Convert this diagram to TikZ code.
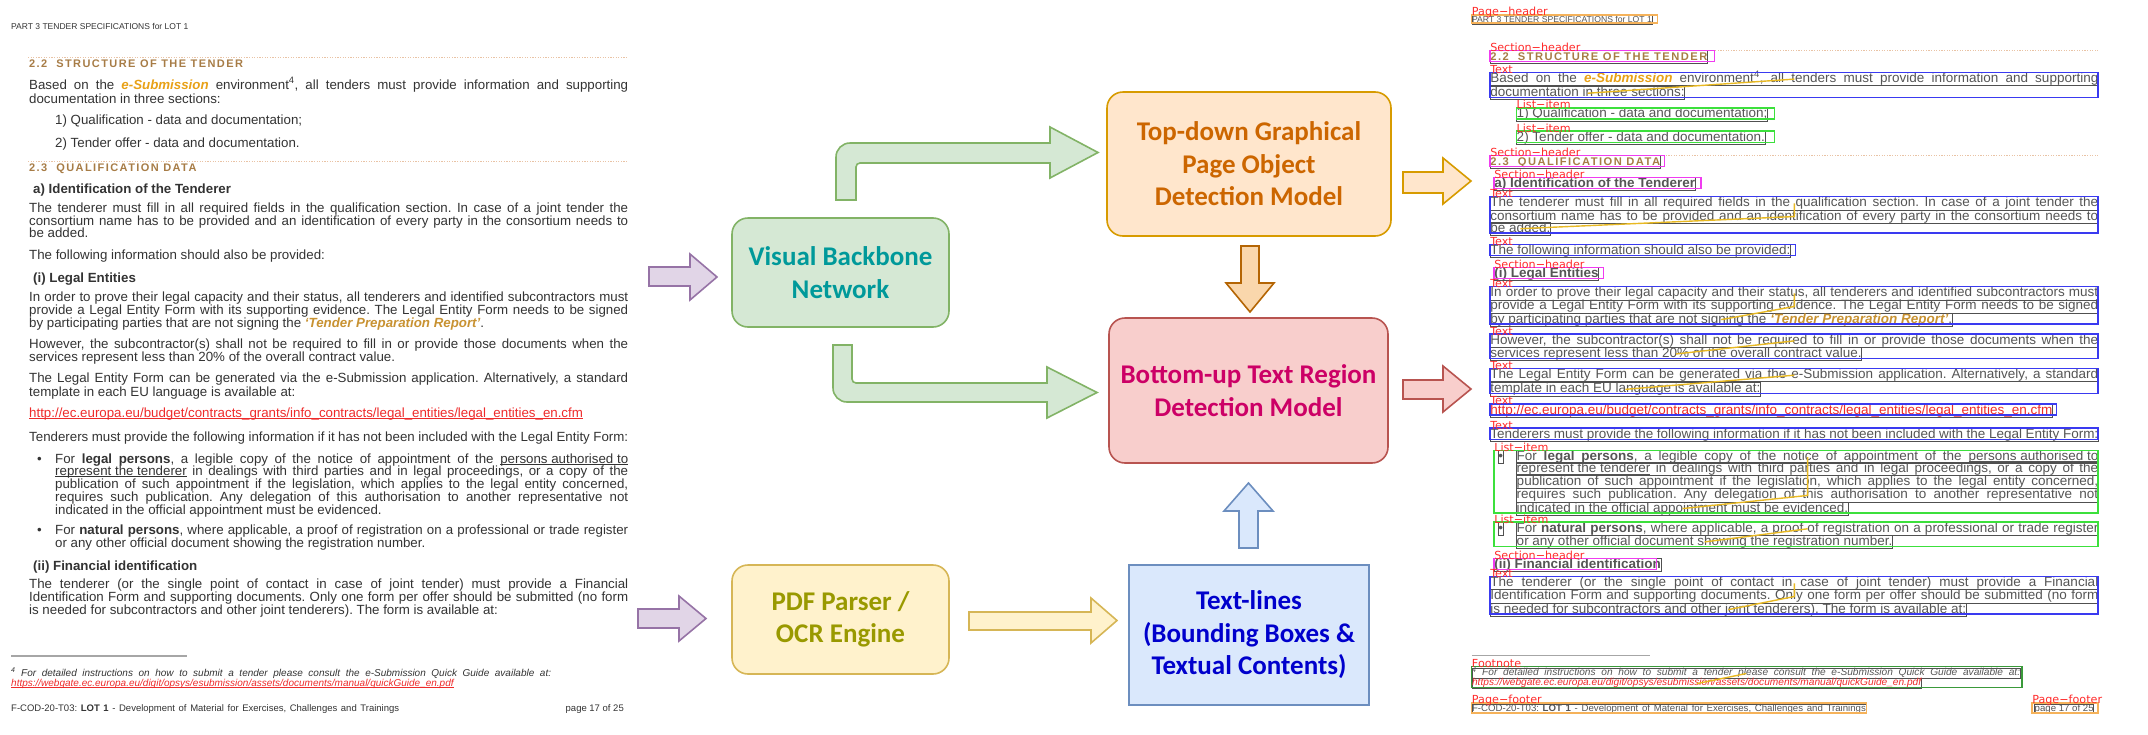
\documentclass[tikz,border=0pt]{standalone}
\usepackage{fontspec}
\setmainfont{Liberation Sans}
\newfontfamily\calfont{Carlito}
\newfontfamily\labfont{DejaVu Sans}
\definecolor{doctext}{HTML}{333333}
\definecolor{docgray}{HTML}{555555}
\definecolor{secbrown}{HTML}{A77C46}
\definecolor{esubc}{HTML}{E8A117}
\definecolor{tprc}{HTML}{C89232}
\definecolor{urlred}{HTML}{EE2A2A}
\definecolor{dotc}{HTML}{E9C3A5}
\definecolor{lbgray}{HTML}{505050}
\definecolor{labred}{HTML}{FF2A2A}
\definecolor{anntext}{HTML}{3A3AF0}
\definecolor{annsec}{HTML}{F03CF0}
\definecolor{annlist}{HTML}{3CE03C}
\definecolor{annfn}{HTML}{3A9A3A}
\definecolor{annpg}{HTML}{F5B25A}
\definecolor{yline}{HTML}{E8B923}
\definecolor{vbfill}{HTML}{D5E8D4}\definecolor{vbdraw}{HTML}{82B366}\definecolor{vbtext}{HTML}{00999A}
\definecolor{tdfill}{HTML}{FFE6CC}\definecolor{tddraw}{HTML}{D79B00}\definecolor{tdtext}{HTML}{CC6600}
\definecolor{bufill}{HTML}{F8CECC}\definecolor{budraw}{HTML}{B85450}\definecolor{butext}{HTML}{CC0066}
\definecolor{pdffill}{HTML}{FFF2CC}\definecolor{pdfdraw}{HTML}{D6B656}\definecolor{pdftext}{HTML}{999900}
\definecolor{tlfill}{HTML}{DAE8FC}\definecolor{tldraw}{HTML}{6C8EBF}\definecolor{tltext}{HTML}{0000CC}
\definecolor{pufill}{HTML}{E1D5E7}\definecolor{pudraw}{HTML}{9673A6}
\definecolor{odfill}{HTML}{FAD7AC}\definecolor{oddraw}{HTML}{B46504}

\frenchspacing
\newcommand\bodyfont{\fontsize{13.3pt}{13.3pt}\selectfont\frenchspacing}
\newcommand\hdfont{\fontsize{8.5pt}{8.5pt}\selectfont}
\newcommand\ftfont{\fontsize{9.5pt}{9.5pt}\selectfont}
\newcommand\fnfont{\fontsize{10pt}{10pt}\selectfont\itshape}
\newcommand\secfont{\color{secbrown}\bfseries\fontsize{11pt}{11pt}\selectfont\addfontfeature{LetterSpace=13}}
\newcommand\esubm[1]{{\color{esubc}\bfseries\itshape #1}}
\newcommand\tprm[1]{{\color{tprc}\bfseries\itshape #1}}
\newcommand\uln[1]{\setbox0\hbox{#1}\rlap{\rule[-1.6pt]{\wd0}{0.6pt}}\box0\relax}
\def\dpfx{L}
\newcommand\docJ[3]{\node[dl] (\dpfx-#1) at (29,#2) {\makebox[599pt][s]{#3}};}
\newcommand\docB[3]{\node[dl] (\dpfx-#1) at (55,#2) {\makebox[573pt][s]{#3}};}
\newcommand\docL[4]{\node[dl] (\dpfx-#1) at (#2,#3) {#4};}
\newcommand\docS[4]{\node[dls] (\dpfx-#1) at (#2,#3) {#4};}

\newcommand\docpage{%
\docS{h}{11}{29}{\hdfont PART 3 TENDER SPECIFICATIONS for LOT 1}
\draw[dotc, line width=0.9pt, dash pattern=on 1.2pt off 1.4pt] (28,57) -- (628,57);
\docL{s1}{29}{67}{\secfont 2.2\ \ STRUCTURE OF THE TENDER}
\docJ{1}{89}{Based on the \esubm{e-Submission} environment\textsuperscript{4}, all tenders must provide information and supporting}
\docL{2}{29}{103}{documentation in three sections:}
\docL{3}{55}{124}{1) Qualification - data and documentation;}
\docL{4}{55}{147}{2) Tender offer - data and documentation.}
\draw[dotc, line width=0.9pt, dash pattern=on 1.2pt off 1.4pt] (28,161) -- (628,161);
\docL{s2}{29}{171}{\secfont 2.3\ \ QUALIFICATION DATA}
\docL{5}{33}{193}{\textbf{a) Identification of the Tenderer}}
\docJ{6}{212}{The tenderer must fill in all required fields in the qualification section. In case of a joint tender the}
\docJ{7}{225}{consortium name has to be provided and an identification of every party in the consortium needs to}
\docL{8}{29}{237}{be added.}
\docL{9}{29}{259}{The following information should also be provided:}
\docL{10}{33}{282}{\textbf{(i) Legal Entities}}
\docJ{11}{301}{In order to prove their legal capacity and their status, all tenderers and identified subcontractors must}
\docJ{12}{314}{provide a Legal Entity Form with its supporting evidence. The Legal Entity Form needs to be signed}
\docL{13}{29}{327}{by participating parties that are not signing the \tprm{`Tender Preparation Report'}.}
\docJ{14}{348}{However, the subcontractor(s) shall not be required to fill in or provide those documents when the}
\docL{15}{29}{361}{services represent less than 20\% of the overall contract value.}
\docJ{16}{382}{The Legal Entity Form can be generated via the e-Submission application. Alternatively, a standard}
\docL{17}{29}{396}{template in each EU language is available at:}
\docL{18}{29}{417}{\color{urlred}\uln{http://ec.europa.eu/budget/contracts\_grants/info\_contracts/legal\_entities/legal\_entities\_en.cfm}}
\docJ{19}{441}{Tenderers must provide the following information if it has not been included with the Legal Entity Form:}
\docL{b1}{37}{463}{\textbullet}
\docB{20}{463}{For \textbf{legal persons}, a legible copy of the notice of appointment of the \uln{persons authorised to}}
\docB{21}{475}{\uln{represent the tenderer} in dealings with third parties and in legal proceedings, or a copy of the}
\docB{22}{488}{publication of such appointment if the legislation, which applies to the legal entity concerned,}
\docB{23}{501}{requires such publication. Any delegation of this authorisation to another representative not}
\docL{24}{55}{514}{indicated in the official appointment must be evidenced.}
\docL{b2}{37}{534}{\textbullet}
\docB{25}{534}{For \textbf{natural persons}, where applicable, a proof of registration on a professional or trade register}
\docL{26}{55}{547}{or any other official document showing the registration number.}
\docL{27}{33}{570}{\textbf{(ii) Financial identification}}
\docJ{28}{588}{The tenderer (or the single point of contact in case of joint tender) must provide a Financial}
\docJ{29}{601}{Identification Form and supporting documents. Only one form per offer should be submitted (no form}
\docL{30}{29}{614}{is needed for subcontractors and other joint tenderers). The form is available at:}
\draw[gray!70, line width=1.2pt] (11,656) -- (187,656);
\docS{31}{11}{676}{\fnfont\makebox[540pt][s]{\textsuperscript{4} For detailed instructions on how to submit a tender please consult the e-Submission Quick Guide available at:}}
\docS{32}{11}{686}{\fnfont\color{urlred}\uln{https://webgate.ec.europa.eu/digit/opsys/esubmission/assets/documents/manual/quickGuide\_en.pdf}}
\docS{33}{11}{711}{\ftfont\makebox[388pt][s]{F-COD-20-T03: \textbf{LOT 1} - Development of Material for Exercises, Challenges and Trainings}}
\node[dls, anchor=base east] (\dpfx-34) at (624,711) {\ftfont page 17 of 25};
}

\newcommand\ann[7]{\draw[#2, line width=1.4pt] (#4,#5) rectangle (#6,#7);
\node[lab] (#1) at (#4,#5+1) {#3};}

\begin{document}
\begin{tikzpicture}[x=1pt,y=-1pt,
  linebox/.style={},
  dl/.style={anchor=base west, inner sep=0pt, text height=10pt, text depth=3pt, text=doctext, font=\bodyfont, linebox},
  dls/.style={anchor=base west, inner sep=0pt, text height=7pt, text depth=2.5pt, text=doctext, linebox},
  lab/.style={anchor=base west, inner sep=0pt, text=labred, font=\labfont\fontsize{11pt}{11pt}\selectfont},
  yl/.style={yline, line width=1.4pt},
  box/.style={rounded corners=16pt, line width=1.6pt, align=center, font={\calfont\bfseries\fontsize{27pt}{32.5pt}\selectfont}},
  barrow/.style={line width=1.6pt, line join=miter}
]
\useasboundingbox (0,0) rectangle (2148,734);

% ---------- left page ----------
\docpage

% ---------- middle ----------
\node[box, fill=vbfill, draw=vbdraw, text=vbtext, minimum width=217pt, minimum height=109pt] (vb) at (840.5,272.5) {Visual Backbone\\Network};
\node[box, fill=tdfill, draw=tddraw, text=tdtext, minimum width=284pt, minimum height=144pt] (td) at (1249,164) {Top-down Graphical\\Page Object\\Detection Model};
\node[box, fill=bufill, draw=budraw, text=butext, minimum width=279pt, minimum height=145pt] (bu) at (1248.5,390.5) {Bottom-up Text Region\\Detection Model};
\node[box, fill=pdffill, draw=pdfdraw, text=pdftext, minimum width=217pt, minimum height=109pt] (pdf) at (840.5,619.5) {PDF Parser /\\OCR Engine};
\node[box, rounded corners=0pt, fill=tlfill, draw=tldraw, text=tltext, minimum width=240pt, minimum height=140pt] (tl) at (1249,635) {Text-lines\\(Bounding Boxes \&\\Textual Contents)};

% purple input arrows
\draw[barrow, fill=pufill, draw=pudraw] (649,267) -- (690,267) -- (690,254) -- (717,277) -- (690,300) -- (690,286) -- (649,286) -- cycle;
\draw[barrow, fill=pufill, draw=pudraw] (638,609) -- (679,609) -- (679,596) -- (706,618.5) -- (679,641) -- (679,628) -- (638,628) -- cycle;
% green bent arrows
\draw[barrow, fill=vbfill, draw=vbdraw] (836,200) -- (836,180) [rounded corners=14pt] -- (836,143) -- (880,143) [sharp corners] -- (1050,143) -- (1050,127) -- (1098,152.5) -- (1050,178) -- (1050,163) -- (880,163) [rounded corners=4pt] -- (856,163) -- (856,185) [sharp corners] -- (856,200) -- cycle;
\draw[barrow, fill=vbfill, draw=vbdraw] (833,345) -- (833,365) [rounded corners=14pt] -- (833,402) -- (875,402) [sharp corners] -- (1047,402) -- (1047,418) -- (1097,392.5) -- (1047,367) -- (1047,383) -- (880,383) [rounded corners=4pt] -- (852,383) -- (852,362) [sharp corners] -- (852,345) -- cycle;
% orange down arrow
\draw[barrow, fill=odfill, draw=oddraw] (1241,246) -- (1259,246) -- (1259,283) -- (1274,283) -- (1250,312) -- (1226,283) -- (1241,283) -- cycle;
% blue up arrow
\draw[barrow, fill=tlfill, draw=tldraw] (1239,548) -- (1258,548) -- (1258,511) -- (1273,511) -- (1248.5,483) -- (1224,511) -- (1239,511) -- cycle;
% yellow arrow
\draw[barrow, fill=pdffill, draw=pdfdraw] (969,612) -- (1091,612) -- (1091,598) -- (1117,620.5) -- (1091,643) -- (1091,630) -- (969,630) -- cycle;
% output arrows
\draw[barrow, fill=tdfill, draw=tddraw] (1403,172) -- (1443,172) -- (1443,158) -- (1471,181) -- (1443,204) -- (1443,193) -- (1403,193) -- cycle;
\draw[barrow, fill=bufill, draw=budraw] (1403,380) -- (1443,380) -- (1443,366) -- (1471,389) -- (1443,412) -- (1443,399) -- (1403,399) -- cycle;

% ---------- right page ----------
\begin{scope}[shift={(1460.6,-7.3)}, xscale=1.015, yscale=1.0103, transform shape,
  linebox/.style={draw=lbgray, line width=0.6pt}]
\def\dpfx{R}\colorlet{doctext}{docgray}
\docpage
\draw[yl] (R-1.center) -- (R-2.center);
\draw[yl] (R-6.center) -- (R-7.center) -- (R-8.center);
\draw[yl] (R-11.center) -- (R-12.center) -- (R-13.center);
\draw[yl] (R-14.center) -- (R-15.center);
\draw[yl] (R-16.center) -- (R-17.center);
\draw[yl] (R-20.center) -- (R-21.center) -- (R-22.center) -- (R-23.center) -- (R-24.center);
\draw[yl] (R-25.center) -- (R-26.center);
\draw[yl] (R-28.center) -- (R-29.center) -- (R-30.center);
\draw[yl] (R-31.center) -- (R-32.center);
\ann{a1}{annpg}{Page−header}{11}{22}{194}{30}
\ann{a2}{annsec}{Section−header}{29}{57}{250}{68}
\ann{a3}{anntext}{Text}{29}{79}{628}{104}
\ann{a4}{annlist}{List−item}{55}{114}{309}{125}
\ann{a5}{annlist}{List−item}{55}{137}{309}{148}
\ann{a6}{annsec}{Section−header}{29}{161}{201}{172}
\ann{a7}{annsec}{Section−header}{33}{183}{237}{194}
\ann{a8}{anntext}{Text}{29}{202}{628}{238}
\ann{a9}{anntext}{Text}{29}{249}{330}{260}
\ann{a10}{annsec}{Section−header}{33}{272}{141}{283}
\ann{a11}{anntext}{Text}{29}{291}{628}{328}
\ann{a12}{anntext}{Text}{29}{338}{628}{362}
\ann{a13}{anntext}{Text}{29}{372}{628}{397}
\ann{a14}{anntext}{Text}{29}{407}{587}{418}
\ann{a15}{anntext}{Text}{29}{431}{628}{442}
\ann{a16}{annlist}{List−item}{33}{453}{628}{515}
\ann{a17}{annlist}{List−item}{33}{524}{628}{548}
\ann{a18}{annsec}{Section−header}{33}{560}{193}{571}
\ann{a19}{anntext}{Text}{29}{578}{628}{615}
\ann{a20}{annfn}{Footnote}{11}{667}{553}{688}
\ann{a21}{annpg}{Page−footer}{11}{703}{400}{713}
\ann{a22}{annpg}{Page−footer}{563}{703}{628}{713}
\end{scope}
\end{tikzpicture}
\end{document}
